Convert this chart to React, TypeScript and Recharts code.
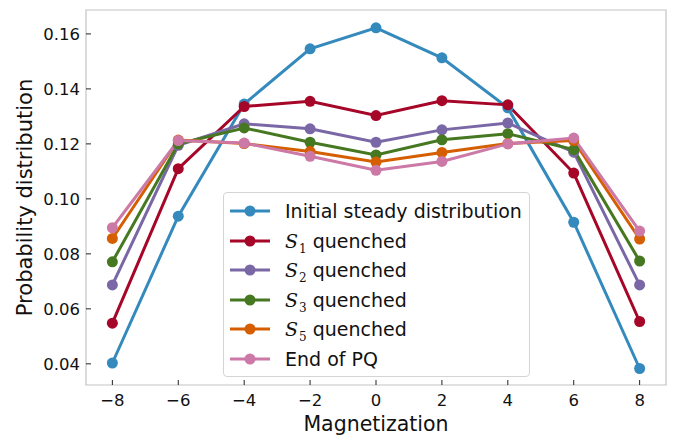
import React from 'react';
import { LineChart, Line, XAxis, YAxis, Legend, ReferenceArea, Label } from 'recharts';

const magnetization = [-8, -6, -4, -2, 0, 2, 4, 6, 8];
const initialSteady = [0.0403, 0.0937, 0.1345, 0.1546, 0.1622, 0.1513, 0.1331, 0.0915, 0.0383];
const s1Quenched = [0.0548, 0.1110, 0.1336, 0.1355, 0.1303, 0.1357, 0.1342, 0.1094, 0.0554];
const s2Quenched = [0.0687, 0.1195, 0.1273, 0.1255, 0.1206, 0.1251, 0.1276, 0.1170, 0.0687];
const s3Quenched = [0.0771, 0.1200, 0.1258, 0.1206, 0.1160, 0.1215, 0.1237, 0.1179, 0.0774];
const s5Quenched = [0.0856, 0.1214, 0.1201, 0.1172, 0.1134, 0.1169, 0.1201, 0.1212, 0.0854];
const endOfPQ = [0.0895, 0.1212, 0.1203, 0.1155, 0.1104, 0.1136, 0.1200, 0.1221, 0.0883];

const xTicks = [-8, -6, -4, -2, 0, 2, 4, 6, 8];
const yTicks = [0.04, 0.06, 0.08, 0.1, 0.12, 0.14, 0.16];
const xDomain = [-8.8, 8.8];
const yDomain = [0.0323, 0.1687];

const seriesDefs = [
  { key: 'initial', values: initialSteady, color: '#348ABD', label: 'Initial steady distribution', sub: '' },
  { key: 's1', values: s1Quenched, color: '#A60628', label: 'quenched', sub: '1' },
  { key: 's2', values: s2Quenched, color: '#7A68A6', label: 'quenched', sub: '2' },
  { key: 's3', values: s3Quenched, color: '#467821', label: 'quenched', sub: '3' },
  { key: 's5', values: s5Quenched, color: '#D55E00', label: 'quenched', sub: '5' },
  { key: 'pq', values: endOfPQ, color: '#CC79A7', label: 'End of PQ', sub: '' },
];

const data = magnetization.map((m, i) => {
  const row: Record<string, number> = { m };
  seriesDefs.forEach((s) => {
    row[s.key] = s.values[i];
  });
  return row;
});

const FONT = '"DejaVu Sans", sans-serif';

const fmtX = (v: number) => (v < 0 ? '\u2212' + Math.abs(v) : String(v));

const XTick = (props: any) => {
  const { x, y, payload } = props;
  return (
    <g>
      <line x1={x} x2={x} y1={y} y2={y - 5} stroke="#222" strokeWidth={1} />
      <text x={x} y={y + 21} textAnchor="middle" fontFamily={FONT} fontSize={16.5} fill="#111">
        {fmtX(payload.value)}
      </text>
    </g>
  );
};

const YTick = (props: any) => {
  const { x, y, payload } = props;
  return (
    <g>
      <line x1={x} x2={x + 5} y1={y} y2={y} stroke="#222" strokeWidth={1} />
      <text x={x - 6} y={y} dy="0.36em" textAnchor="end" fontFamily={FONT} fontSize={16.5} fill="#111">
        {Number(payload.value).toFixed(2)}
      </text>
    </g>
  );
};

const LegendBox = () => (
  <div
    style={{
      width: 305,
      height: 183,
      border: '1px solid #d4d4d4',
      borderRadius: 4,
      background: 'rgba(255,255,255,0.85)',
      boxSizing: 'content-box',
      position: 'relative',
      fontFamily: FONT,
    }}
  >
    {seriesDefs.map((s, i) => (
      <div
        key={s.key}
        style={{ position: 'absolute', left: 0, top: 4 + i * 29.6, height: 28, width: 305 }}
      >
        <svg width={60} height={28} style={{ position: 'absolute', left: 0, top: 0 }}>
          <line x1={6} x2={46} y1={14} y2={14} stroke={s.color} strokeWidth={3} />
          <circle cx={26} cy={14} r={5.5} fill={s.color} />
        </svg>
        <div
          style={{
            position: 'absolute',
            left: 61,
            top: 0,
            lineHeight: '28px',
            fontSize: 19,
            color: '#111',
            whiteSpace: 'nowrap',
          }}
        >
          {s.sub ? (
            <span>
              <span style={{ fontFamily: '"DejaVu Serif", serif', fontStyle: 'italic' }}>S</span>
              <span
                style={{
                  fontFamily: '"DejaVu Serif", serif',
                  fontSize: 12,
                  position: 'relative',
                  top: 5,
                  marginLeft: 1,
                }}
              >
                {s.sub}
              </span>
              <span style={{ marginLeft: 6 }}>{s.label}</span>
            </span>
          ) : (
            s.label
          )}
        </div>
      </div>
    ))}
  </div>
);

export default function App() {
  return (
    <div style={{ position: 'absolute', left: 0, top: 0, width: 682, height: 435, background: '#fff' }}>
      <LineChart
        width={682}
        height={435}
        data={data}
        margin={{ top: 10, right: 16, bottom: 0, left: 0 }}
      >
        <XAxis
          dataKey="m"
          type="number"
          domain={xDomain}
          ticks={xTicks}
          tick={<XTick />}
          tickLine={false}
          tickSize={0}
          tickMargin={0}
          axisLine={false}
          height={50}
          interval={0}
          allowDataOverflow
        >
          <Label
            content={(p: any) => {
              const vb = p.viewBox;
              return (
                <text
                  x={vb.x + vb.width / 2}
                  y={vb.y + 46}
                  textAnchor="middle"
                  fontFamily={FONT}
                  fontSize={20.5}
                  fill="#111"
                >
                  Magnetization
                </text>
              );
            }}
          />
        </XAxis>
        <YAxis
          type="number"
          domain={yDomain}
          ticks={yTicks}
          tick={<YTick />}
          tickLine={false}
          tickSize={0}
          tickMargin={0}
          axisLine={false}
          width={86}
          interval={0}
          allowDataOverflow
        >
          <Label
            content={(p: any) => {
              const vb = p.viewBox;
              const cx = 32;
              const cy = vb.y + vb.height / 2;
              return (
                <text
                  x={cx}
                  y={cy}
                  transform={`rotate(-90, ${cx}, ${cy})`}
                  textAnchor="middle"
                  fontFamily={FONT}
                  fontSize={21}
                  fill="#111"
                >
                  Probability distribution
                </text>
              );
            }}
          />
        </YAxis>
        <ReferenceArea
          x1={xDomain[0]}
          x2={xDomain[1]}
          y1={yDomain[0]}
          y2={yDomain[1]}
          fill="none"
          stroke="#c4c4c4"
          strokeWidth={1.2}
          ifOverflow="visible"
        />
        {seriesDefs.map((s) => (
          <Line
            key={s.key}
            dataKey={s.key}
            name={s.label}
            stroke={s.color}
            strokeWidth={3}
            dot={{ r: 5.5, fill: s.color, stroke: s.color, strokeWidth: 0 }}
            activeDot={false}
            isAnimationActive={false}
            type="linear"
          />
        ))}
        <Legend
          layout="vertical"
          align="center"
          verticalAlign="middle"
          content={<LegendBox />}
          wrapperStyle={{ position: 'absolute', left: 223, top: 192, width: 'auto', height: 'auto' }}
        />
      </LineChart>
    </div>
  );
}
